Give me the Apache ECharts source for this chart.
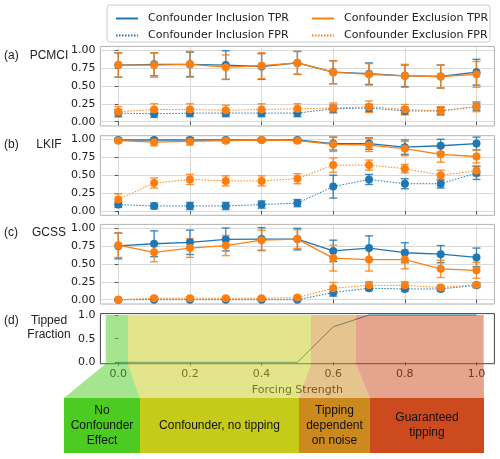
<!DOCTYPE html>
<html>
<head>
<meta charset="utf-8">
<script src="https://cdn.jsdelivr.net/npm/echarts@6/dist/echarts.min.js"></script>
<style>
html, body { margin: 0; padding: 0; background: #fff; }
#mybox { width: 500px; height: 459px; }
</style>
</head>
<body>
<div id="mybox"></div>
<script>
// forcing strength (x values shared by all panels)
var forcing = [0, 0.1, 0.2, 0.3, 0.4, 0.5, 0.6, 0.7, 0.8, 0.9, 1.0];

// (a) PCMCI
var pcmciIncTpr    = [0.79, 0.80, 0.80, 0.79, 0.77, 0.82, 0.69, 0.67, 0.64, 0.63, 0.69];
var pcmciIncTprErr = [0.17, 0.16, 0.17, 0.20, 0.18, 0.16, 0.16, 0.15, 0.15, 0.16, 0.18];
var pcmciExcTpr    = [0.79, 0.79, 0.80, 0.76, 0.78, 0.82, 0.69, 0.66, 0.64, 0.63, 0.66];
var pcmciExcTprErr = [0.17, 0.17, 0.18, 0.17, 0.18, 0.16, 0.16, 0.15, 0.16, 0.16, 0.18];
var pcmciIncFpr    = [0.12, 0.11, 0.12, 0.12, 0.12, 0.12, 0.18, 0.19, 0.15, 0.15, 0.21];
var pcmciIncFprErr = [0.05, 0.05, 0.05, 0.05, 0.05, 0.05, 0.05, 0.05, 0.05, 0.05, 0.05];
var pcmciExcFpr    = [0.14, 0.17, 0.17, 0.16, 0.17, 0.18, 0.19, 0.21, 0.17, 0.15, 0.21];
var pcmciExcFprErr = [0.07, 0.08, 0.08, 0.07, 0.08, 0.07, 0.07, 0.08, 0.07, 0.06, 0.07];

// (b) LKIF
var lkifIncTpr    = [0.99, 0.99, 0.99, 0.99, 0.99, 0.99, 0.94, 0.94, 0.89, 0.91, 0.94];
var lkifIncTprErr = [0.02, 0.02, 0.03, 0.02, 0.02, 0.02, 0.09, 0.08, 0.10, 0.09, 0.09];
var lkifExcTpr    = [0.98, 0.96, 0.97, 0.98, 0.99, 0.98, 0.93, 0.92, 0.87, 0.79, 0.76];
var lkifExcTprErr = [0.03, 0.05, 0.05, 0.03, 0.02, 0.03, 0.10, 0.09, 0.10, 0.11, 0.09];
var lkifIncFpr    = [0.09, 0.07, 0.07, 0.07, 0.09, 0.11, 0.34, 0.44, 0.38, 0.38, 0.53];
var lkifIncFprErr = [0.04, 0.04, 0.05, 0.05, 0.05, 0.05, 0.16, 0.07, 0.07, 0.06, 0.09];
var lkifExcFpr    = [0.16, 0.39, 0.44, 0.42, 0.42, 0.45, 0.64, 0.64, 0.59, 0.50, 0.56];
var lkifExcFprErr = [0.08, 0.07, 0.07, 0.07, 0.07, 0.07, 0.10, 0.07, 0.06, 0.07, 0.07];

// (c) GCSS
var gcssIncTpr    = [0.75, 0.78, 0.80, 0.84, 0.845, 0.845, 0.68, 0.72, 0.655, 0.635, 0.59];
var gcssIncTprErr = [0.18, 0.18, 0.17, 0.16, 0.16, 0.15, 0.15, 0.17, 0.14, 0.12, 0.13];
var gcssExcTpr    = [0.76, 0.66, 0.72, 0.755, 0.83, 0.845, 0.58, 0.56, 0.56, 0.43, 0.41];
var gcssExcTprErr = [0.17, 0.13, 0.13, 0.14, 0.14, 0.13, 0.18, 0.16, 0.13, 0.12, 0.11];
var gcssIncFpr    = [0, 0, 0, 0, 0, 0, 0.10, 0.16, 0.15, 0.15, 0.20];
var gcssIncFprErr = [0.005, 0.005, 0.005, 0.005, 0.005, 0.005, 0.05, 0.03, 0.03, 0.03, 0.03];
var gcssExcFpr    = [0, 0.02, 0.02, 0.02, 0.02, 0.03, 0.16, 0.20, 0.20, 0.17, 0.21];
var gcssExcFprErr = [0.01, 0.02, 0.02, 0.02, 0.02, 0.02, 0.08, 0.05, 0.05, 0.03, 0.03];

// (d) tipped fraction
var tippedFraction = [0, 0, 0, 0, 0, 0, 0.75, 1, 1, 1, 1];

// regime boundaries in forcing strength, and their labels
var regimeEdges  = [-0.035, 0.027, 0.538, 0.663, 1.02];
var regimeLabels = ['No\nConfounder\nEffect', 'Confounder, no tipping', 'Tipping\ndependent\non noise', 'Guaranteed\ntipping'];

var xTicks = [0, 0.2, 0.4, 0.6, 0.8, 1.0];
var rateTicks = [0, 0.25, 0.5, 0.75, 1.0];
var fracTicks = [0, 0.5, 1.0];

var BLUE = '#1f77b4', ORANGE = '#ff7f0e';
var NAMES = ['Confounder Inclusion TPR', 'Confounder Exclusion TPR', 'Confounder Inclusion FPR', 'Confounder Exclusion FPR'];
var TICK_FONT = 'DejaVu Sans';
var LABEL_FONT = 'Liberation Sans';

var mycharts = echarts.init(document.getElementById('mybox'));

var gridLeft = 100.4, gridWidth = 394;
var grids = [
    { left: gridLeft, width: gridWidth, top: 46.4, height: 79.6 },
    { left: gridLeft, width: gridWidth, top: 135.7, height: 79.6 },
    { left: gridLeft, width: gridWidth, top: 224.4, height: 79.6 },
    { left: gridLeft, width: gridWidth, top: 313.6, height: 50.1 }
];
grids.forEach(function (g, i) {
    g.show = true;
    g.backgroundColor = 'transparent';
    g.borderWidth = 1;
    g.borderColor = i < 3 ? '#b3b3b3' : '#444';
    g.outerBoundsMode = 'none';
    g.containLabel = false;
});

var xAxes = [], yAxes = [];
for (var i = 0; i < 4; i++) {
    xAxes.push({
        type: 'value', gridIndex: i, min: -0.05, max: 1.05,
        axisLine: { show: false },
        axisTick: { show: true, inside: false, length: 3.5, customValues: xTicks, lineStyle: { color: '#333', width: 0.8 } },
        axisLabel: {
            show: i === 3, customValues: xTicks, margin: 5,
            fontFamily: TICK_FONT, fontSize: 11, color: '#222',
            formatter: function (v) { return v.toFixed(1); }
        },
        splitLine: { show: i < 3, lineStyle: { color: '#d0d0d0', width: 0.8 } },
        name: i === 3 ? 'Forcing Strength' : '',
        nameLocation: 'middle', nameGap: 21,
        nameTextStyle: { fontFamily: TICK_FONT, fontSize: 11, color: '#222' }
    });
    yAxes.push({
        type: 'value', gridIndex: i,
        min: i < 3 ? -0.06 : -0.03, max: i < 3 ? 1.05 : 1.03,
        axisLine: { show: false },
        axisTick: { show: true, inside: false, length: 3.5, customValues: i < 3 ? rateTicks : fracTicks, lineStyle: { color: '#333', width: 0.8 } },
        axisLabel: {
            customValues: i < 3 ? rateTicks : fracTicks, margin: 5,
            fontFamily: TICK_FONT, fontSize: 11, color: '#222',
            formatter: i < 3 ? function (v) { return v.toFixed(2); } : function (v) { return v.toFixed(1); }
        },
        splitLine: { show: i < 3, lineStyle: { color: '#d0d0d0', width: 0.8 } }
    });
}

function pairs(ys) {
    return forcing.map(function (x, k) { return [x, ys[k]]; });
}
function errPairs(ys, es) {
    return forcing.map(function (x, k) { return [x, ys[k] - es[k], ys[k] + es[k]]; });
}

// error bar with caps, drawn through the axis scale
function errRender(color) {
    return function (params, api) {
        var x = api.value(0);
        var p1 = api.coord([x, api.value(1)]);
        var p2 = api.coord([x, api.value(2)]);
        var w = 4;
        var st = { stroke: color, lineWidth: 1.4, opacity: 0.85 };
        return {
            type: 'group',
            children: [
                { type: 'line', shape: { x1: p1[0], y1: p1[1], x2: p2[0], y2: p2[1] }, style: st },
                { type: 'line', shape: { x1: p1[0] - w, y1: p1[1], x2: p1[0] + w, y2: p1[1] }, style: st },
                { type: 'line', shape: { x1: p2[0] - w, y1: p2[1], x2: p2[0] + w, y2: p2[1] }, style: st }
            ]
        };
    };
}

var series = [];
function addSeries(gi, name, color, dotted, ys, es) {
    series.push({
        type: 'custom', name: name + ' err', xAxisIndex: gi, yAxisIndex: gi,
        renderItem: errRender(color), data: errPairs(ys, es), silent: true
    });
    series.push({
        type: 'line', name: name, xAxisIndex: gi, yAxisIndex: gi,
        data: pairs(ys), symbol: 'circle', symbolSize: 8, showSymbol: true,
        itemStyle: { color: color },
        lineStyle: { color: color, width: dotted ? 1 : 1.3, type: dotted ? [1.5, 1.5] : 'solid' },
        silent: true
    });
}

var panels = [
    [pcmciIncTpr, pcmciIncTprErr, pcmciExcTpr, pcmciExcTprErr, pcmciIncFpr, pcmciIncFprErr, pcmciExcFpr, pcmciExcFprErr],
    [lkifIncTpr, lkifIncTprErr, lkifExcTpr, lkifExcTprErr, lkifIncFpr, lkifIncFprErr, lkifExcFpr, lkifExcFprErr],
    [gcssIncTpr, gcssIncTprErr, gcssExcTpr, gcssExcTprErr, gcssIncFpr, gcssIncFprErr, gcssExcFpr, gcssExcFprErr]
];
panels.forEach(function (p, gi) {
    addSeries(gi, NAMES[2], BLUE, true, p[4], p[5]);
    addSeries(gi, NAMES[0], BLUE, false, p[0], p[1]);
    addSeries(gi, NAMES[1], ORANGE, false, p[2], p[3]);
    addSeries(gi, NAMES[3], ORANGE, true, p[6], p[7]);
});

series.push({
    type: 'line', name: 'tipped', xAxisIndex: 3, yAxisIndex: 3,
    data: pairs(tippedFraction), symbol: 'none',
    lineStyle: { color: BLUE, width: 1 }, silent: true
});

var legendCommon = {
    orient: 'vertical', top: 8, itemWidth: 22, itemHeight: 11, itemGap: 6,
    selectedMode: false,
    itemStyle: { color: 'rgba(0,0,0,0)', borderWidth: 0 },
    textStyle: { fontFamily: TICK_FONT, fontSize: 11, color: '#222', padding: [0, 0, 0, 5] }
};

var optionObj = {
    animation: false,
    grid: grids,
    xAxis: xAxes,
    yAxis: yAxes,
    legend: [
        echarts.util.extend({ left: 110, data: [NAMES[0], NAMES[2]] }, legendCommon),
        echarts.util.extend({ left: 306, data: [NAMES[1], NAMES[3]] }, legendCommon)
    ],
    series: series
};

mycharts.setOption(optionObj);

// annotations: panel labels, legend frame, regime bands and boxes
function px(x, y) { return mycharts.convertToPixel({ gridIndex: 3 }, [x, y]); }

var bandFill = ['rgba(76,204,34,0.5)', 'rgba(198,203,26,0.5)', 'rgba(204,138,30,0.5)', 'rgba(204,74,30,0.5)'];
var boxFill  = ['#4ccc22', '#c6cb1a', '#cc8a1e', '#cc4a1e'];
var boxEdges = [64, 140, 299, 370, 484];
var boxTop = 398, boxBottom = 453;

var graphics = [];
graphics.push({
    type: 'rect', shape: { x: 107, y: 5, width: 383, height: 37, r: 3 },
    style: { fill: 'rgba(255,255,255,0.8)', stroke: '#cccccc', lineWidth: 1 }, z: -1
});

var labelFont = '12px "' + LABEL_FONT + '"';
[['(a)', 'PCMCI', 55.5], ['(b)', 'LKIF', 144.5], ['(c)', 'GCSS', 233]].forEach(function (l) {
    graphics.push({ type: 'text', style: { text: l[0], x: 4, y: l[2], font: labelFont, fill: '#222', verticalAlign: 'middle' } });
    graphics.push({ type: 'text', style: { text: l[1], x: 49, y: l[2], font: labelFont, fill: '#222', align: 'center', verticalAlign: 'middle' } });
});
graphics.push({ type: 'text', style: { text: '(d)', x: 4, y: 321, font: labelFont, fill: '#222', verticalAlign: 'middle' } });
graphics.push({ type: 'text', style: { text: 'Tipped\nFraction', x: 49, y: 327.5, font: labelFont, lineHeight: 14, fill: '#222', align: 'center', verticalAlign: 'middle' } });

var yTop = px(0, 1)[1];
var yAxisBottom = px(0, -0.03)[1];
for (var r = 0; r < regimeLabels.length; r++) {
    var xl = px(regimeEdges[r], 0)[0];
    var xr = px(regimeEdges[r + 1], 0)[0];
    graphics.push({
        type: 'polygon', z: 100, silent: true,
        shape: { points: [[xl, yTop], [xr, yTop], [xr, yAxisBottom], [boxEdges[r + 1], boxTop], [boxEdges[r], boxTop], [xl, yAxisBottom]] },
        style: { fill: bandFill[r] }
    });
    graphics.push({
        type: 'rect', z: 100, silent: true,
        shape: { x: boxEdges[r], y: boxTop, width: boxEdges[r + 1] - boxEdges[r], height: boxBottom - boxTop },
        style: { fill: boxFill[r] }
    });
    graphics.push({
        type: 'text', z: 101, silent: true,
        style: {
            text: regimeLabels[r], x: (boxEdges[r] + boxEdges[r + 1]) / 2, y: (boxTop + boxBottom) / 2,
            font: labelFont, lineHeight: 15, fill: '#111', align: 'center', verticalAlign: 'middle'
        }
    });
}

mycharts.setOption({ graphic: graphics });
</script>
</body>
</html>
